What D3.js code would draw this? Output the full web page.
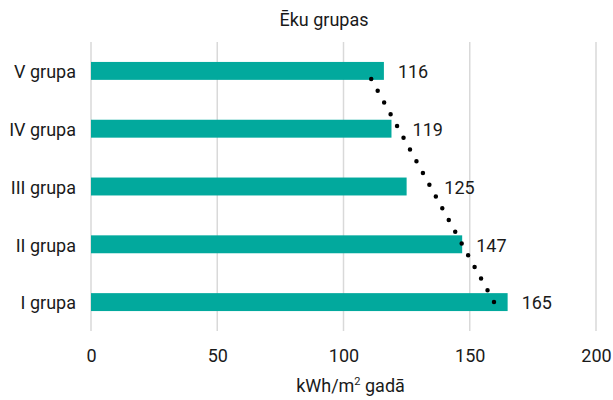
<!DOCTYPE html>
<html>
<head>
<meta charset="utf-8">
<script src="https://cdn.jsdelivr.net/npm/d3@7"></script>
<style>
  body { margin: 0; background: #fff; }
  text { font-family: Roboto, "Noto Sans", sans-serif; fill: #1a1a1a; }
</style>
</head>
<body>
<div id="chart"></div>
<script>
var categories = ["V grupa", "IV grupa", "III grupa", "II grupa", "I grupa"]
var values = [116, 119, 125, 147, 165]
var xTicks = [0, 50, 100, 150, 200]

var width = 613, height = 400
var margin = { top: 42, right: 17, bottom: 69, left: 91 },
  innerW = width - margin.left - margin.right,
  innerH = height - margin.top - margin.bottom

var svg = d3.select("#chart").append("svg")
  .attr("width", width)
  .attr("height", height)

var g = svg.append("g")
  .attr("transform", "translate(" + margin.left + "," + margin.top + ")")

var x = d3.scaleLinear().domain([0, 200]).range([0, innerW])
var y = d3.scaleBand().domain(categories).range([0, innerH]).paddingInner(0.69).paddingOuter(0.345)
var mid = function (c) { return y(c) + y.bandwidth() / 2 }

// gridlines
g.selectAll(".grid")
  .data(xTicks)
  .enter().append("line")
  .attr("x1", function (d) { return x(d) })
  .attr("x2", function (d) { return x(d) })
  .attr("y1", 0)
  .attr("y2", innerH)
  .attr("stroke", "#d9d9d9")
  .attr("stroke-width", 1.5)

// bars
g.selectAll("rect")
  .data(values)
  .enter().append("rect")
  .attr("x", x(0))
  .attr("y", function (d, i) { return y(categories[i]) })
  .attr("width", function (d) { return x(d) - x(0) })
  .attr("height", y.bandwidth())
  .attr("fill", "#02a99d")

// linear trendline (least squares, I grupa = 1 ... V grupa = 5)
var n = values.length
var pts = values.map(function (v, i) { return { k: n - i, v: v, c: categories[i] } })
var mk = d3.mean(pts, function (p) { return p.k }),
  mv = d3.mean(pts, function (p) { return p.v })
var slope = d3.sum(pts, function (p) { return (p.k - mk) * (p.v - mv) }) /
  d3.sum(pts, function (p) { return (p.k - mk) * (p.k - mk) })
var icpt = mv - slope * mk
var trendAt = function (k) { return icpt + slope * k }

// drawn from I grupa upward so the dot pattern starts at the bottom end
var trend = [pts[n - 1], pts[0]].map(function (p) {
  return [x(trendAt(p.k)), mid(p.c)]
})

g.append("path")
  .attr("d", d3.line()(trend))
  .attr("fill", "none")
  .attr("stroke", "#000")
  .attr("stroke-width", 4.5)
  .attr("stroke-linecap", "round")
  .attr("stroke-dasharray", "0,13.4")

// value labels, kept clear of the bar end and the trendline
g.selectAll(".label")
  .data(pts)
  .enter().append("text")
  .attr("x", function (p) { return x(Math.max(p.v, trendAt(p.k))) + 14 })
  .attr("y", function (p) { return mid(p.c) })
  .attr("dy", "0.4em")
  .style("font-size", "18px")
  .text(function (p) { return p.v })

// category axis
var yAxis = d3.axisLeft(y).tickSize(0).tickPadding(15)
var ya = g.append("g").call(yAxis)
ya.select(".domain").remove()
ya.selectAll("text").style("font-size", "18px").attr("dy", "0.4em").attr("fill", "#1a1a1a")

// value axis
var xAxis = d3.axisBottom(x).tickValues(xTicks).tickSize(0).tickPadding(18)
var xa = g.append("g")
  .attr("transform", "translate(0," + innerH + ")")
  .call(xAxis)
xa.select(".domain").remove()
xa.selectAll("text").style("font-size", "18px").attr("fill", "#1a1a1a")

// titles
svg.append("text")
  .attr("x", 324)
  .attr("y", 26)
  .attr("text-anchor", "middle")
  .style("font-size", "18px")
  .text("Ēku grupas")

var at = svg.append("text")
  .attr("x", margin.left + innerW / 2 + 7)
  .attr("y", 392)
  .attr("text-anchor", "middle")
  .style("font-size", "18px")
at.append("tspan").text("kWh/m")
at.append("tspan").attr("dy", -7).style("font-size", "11px").text("2")
at.append("tspan").attr("dy", 7).text(" gadā")
</script>
</body>
</html>
